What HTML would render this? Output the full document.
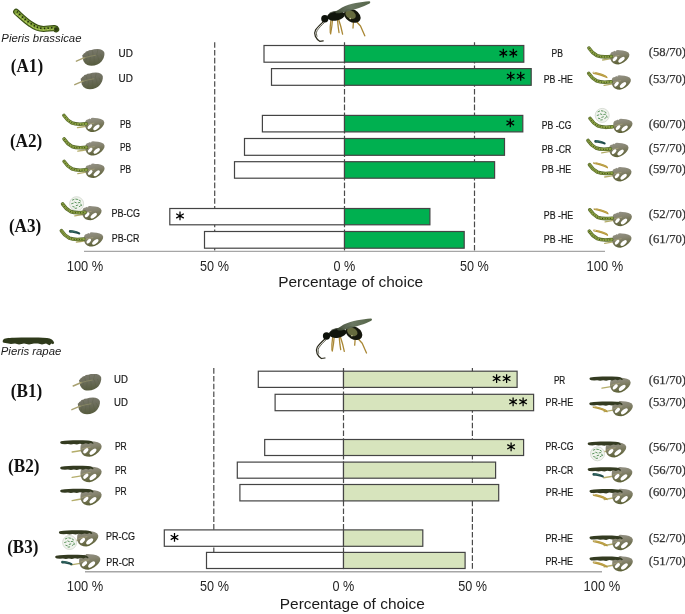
<!DOCTYPE html>
<html><head><meta charset="utf-8"><title>Percentage of choice</title>
<style>html,body{margin:0;padding:0;background:#fff;width:685px;height:614px;overflow:hidden;} svg{display:block;filter:blur(0.3px);}</style>
</head><body>
<svg width="685" height="614" viewBox="0 0 685 614">
<rect width="685" height="614" fill="#fff"/>
<defs>
<linearGradient id="ug" x1="0" y1="0" x2="0.15" y2="1"><stop offset="0" stop-color="#7b7a6e"/><stop offset="0.5" stop-color="#6c6d5b"/><stop offset="1" stop-color="#585d40"/></linearGradient>
<symbol id="ud" overflow="visible">
<path d="M10.2,9.2 L11.2,8.6 L11.8,7.4 L13.1,6.8 L14,5.6 L16,5.1 L17,4.2 L19.5,3.9 L22,3.2 L25.4,3.1 L28,3.3 L30,3.9 L31.6,5.2 L32.4,6.8 L32.4,9 L31.8,11.5 L30.8,13.6 L29.5,15.6 L27.6,17.2 L25.4,18.5 L22.5,19.4 L19.5,19.7 L17.2,19.6 L15.4,19.1 L13.1,17.4 L11.4,15 L10.8,12.1 Z" fill="url(#ug)"/>
<g stroke="#555a3e" stroke-width="0.5" fill="none" opacity="0.55">
<path d="M15,11.5 L13.5,16.5 M18.5,10.6 L17.5,18.5 M22,9.8 L22.5,18.8 M25.5,9 L27.5,16.8 M28.5,8.3 L31,12.5 M17,11 L15.5,5.5 M21,10 L20.5,4.2 M24.5,9.2 L26,3.6"/>
</g>
<path d="M4.4,15.2 L9,13.2 L12.6,11.7" stroke="#a8a171" stroke-width="1.4" fill="none" stroke-linecap="round"/>
<path d="M12.4,11.8 L18,10.3 L23.5,9.3" stroke="#8d8b66" stroke-width="0.8" fill="none" stroke-linecap="round"/>
</symbol>
<linearGradient id="lg" x1="0" y1="0" x2="0.25" y2="1">
<stop offset="0" stop-color="#96948a"/><stop offset="0.45" stop-color="#85836e"/><stop offset="1" stop-color="#5e6238"/></linearGradient>
<symbol id="dl" overflow="visible">
<path d="M-7.3,10 L-3,9.3 L1,8.6" stroke="#b4ad6a" stroke-width="1.3" fill="none" stroke-linecap="round"/>
<path d="M0.6,3.5 L1.5,2.2 L3.5,1.6 L5,0.8 L5.8,1.5 L6.5,0.2 L8,0 L10,0.3 L13,0.5 L16,1.2 L18.5,2.5 L19.5,4.5 L19.2,6.5 L18,8.5 L16.5,10.2 L14,12.2 L11,13.8 L8.5,14.4 L6,14.2 L3.5,13.3 L1.8,11.8 L0.6,9.5 L0.2,7 L0.3,5 Z" fill="url(#lg)"/>
<path d="M1.2,7.5 C3,6.6 6,6 9.5,5.4" stroke="#a9a47a" stroke-width="0.7" fill="none"/>
<ellipse cx="5.1" cy="8.9" rx="2.9" ry="1.55" transform="rotate(-46 5.1 8.9)" fill="#fff"/>
<ellipse cx="11.6" cy="9.7" rx="3.8" ry="1.8" transform="rotate(-40 11.6 9.7)" fill="#fff"/>
</symbol>
<symbol id="pbc" overflow="visible">
<path d="M1,1 C2.6,3.5 5,6.4 9,8.5 C13,10.3 18,10 23.4,9.4" stroke="#56692a" stroke-width="3.6" fill="none" stroke-linecap="round"/>
<path d="M1,1 C2.6,3.5 5,6.4 9,8.5 C13,10.3 18,10 23.4,9.4" stroke="#8ca244" stroke-width="2.2" fill="none" stroke-linecap="round"/>
<path d="M1,1 C2.6,3.5 5,6.4 9,8.5 C13,10.3 18,10 23.4,9.4" stroke="#2f3d10" stroke-width="1.0" fill="none" stroke-dasharray="0.9 1.7"/>
</symbol>
<symbol id="prc" overflow="visible">
<path d="M1.2,1.2 C8,0.2 18,-0.1 28,0.5 C31,0.7 33,1.5 33.8,3.4 L32.5,3.8 L31,3 L28.5,3.9 L26,3.3 L23,4.2 L20,3.7 L17,4.5 L14,4 L11,4.4 L8,3.9 L5,4.2 L2,4 C0,3.6 -0.2,1.6 1.2,1.2 Z" fill="#343b21"/>
</symbol>
<symbol id="he" overflow="visible">
<path d="M0.3,-0.4 C4,-0.1 9,1.3 12.8,3.3 C14.2,4.1 15,5.3 14.3,6.1 C10,4.3 5,2.8 0.5,1.8 C-0.6,1.4 -0.6,-0.3 0.3,-0.4 Z" fill="#b3963a"/>
<path d="M3,0.9 C6.5,1.5 10,2.8 13,4.4" stroke="#cdb25a" stroke-width="0.6" fill="none"/>
<path d="M0.2,0.2 L2.4,0.6" stroke="#dcd6bf" stroke-width="1"/>
</symbol>
<symbol id="cr" overflow="visible">
<path d="M0.6,-0.6 C4,-0.6 8,0.4 10.6,2 C11.6,2.7 11.2,4.3 10,3.9 C7.5,2.8 4,2.2 0.8,2.2 C-0.6,2 -0.6,-0.4 0.6,-0.6 Z" fill="#1f4b4a"/>
<path d="M1,0.5 C3,0.5 5,0.8 7,1.4" stroke="#3f7a70" stroke-width="0.8" fill="none"/>
</symbol>
<symbol id="cg" overflow="visible">
<circle cx="0" cy="0" r="7" fill="#f1f4ee" stroke="#cfd6cb" stroke-width="0.8"/>
<g stroke="#5f9660" stroke-width="1" stroke-linecap="round">
<path d="M-4.2,-3.6 l1.6,-0.7 M-0.8,-4.6 l1.7,0.3 M2.5,-3.6 l1.4,0.9 M-5,0 l1.6,-0.5 M-1.8,-1.5 l1.5,0.6 M1.6,-0.9 l1.7,-0.3 M4.3,0.4 l0.6,1.4 M-3.8,2.8 l1.5,0.5 M-0.4,1.9 l1.6,-0.5 M2.6,3 l1.3,-0.9 M-1.4,4.6 l1.5,-0.2"/>
</g>
</symbol>
<symbol id="wasp" overflow="visible">
<g stroke="#2b2a1c" stroke-width="1.25" fill="none" stroke-linecap="round" stroke-linejoin="round">
<path d="M13.4,21.6 C10.5,24.3 7.4,27.3 5.6,29.8 C4.5,31.8 4.5,34.4 5.4,36.4 C6.5,38.6 8.2,40.4 9.7,41.3 L13.2,40.8"/>
</g>
<path d="M14.6,22.4 C11.8,25 8.8,28 7,30.8 C6.2,32.6 6.3,34.8 7.2,36.6" stroke="#3e3d2a" stroke-width="0.8" fill="none"/>
<g stroke="#a98734" stroke-width="1.3" fill="none" stroke-linecap="round" stroke-linejoin="round">
<path d="M22.5,19.5 L21.8,26.5 L20.6,33.8"/>
<path d="M21,19.8 L20.2,27 L20.3,32.8"/>
<path d="M28.5,19 L30.8,26.5 L32.6,34.2"/>
<path d="M27.5,19.5 L28.2,27 L29,32.5"/>
<path d="M41,20.5 L43.5,21 L43,28"/>
<path d="M45,20 L50.5,26 L54.8,35.8"/>
</g>
<ellipse cx="42.3" cy="15.8" rx="8.9" ry="6.3" transform="rotate(30 42.3 15.8)" fill="#15170d"/>
<ellipse cx="40.6" cy="14.6" rx="5.6" ry="3.9" transform="rotate(30 40.6 14.6)" fill="#666b3e"/>
<circle cx="40.2" cy="18.6" r="0.8" fill="#d9d3a6"/>
<ellipse cx="26" cy="15.8" rx="8.9" ry="4.7" transform="rotate(-10 26 15.8)" fill="#11150c"/>
<path d="M19.5,13.2 C22.5,11.6 26.5,11 30,11.5" stroke="#4a5042" stroke-width="0.9" fill="none"/>
<ellipse cx="14.8" cy="18.8" rx="3.6" ry="3.7" fill="#0e120b"/>
<linearGradient id="wg" x1="0" y1="0" x2="1" y2="0"><stop offset="0" stop-color="#3e4834"/><stop offset="0.45" stop-color="#63715a"/><stop offset="1" stop-color="#4b5c3e"/></linearGradient>
<path d="M25.5,11.4 C28,10 30,8.6 32,7.4 C36,5.6 41,3.9 45.7,3 C50,2.2 55,1.6 59.2,1.2 C60.6,1.3 60.6,2.6 59.6,3.6 C56,5.6 52.5,6.8 49,7.9 C45,9.2 40.5,10.6 36.1,11.8 C33,12.6 29.5,13.4 27,13.3 C25.6,13.1 25,12.2 25.5,11.4 Z" fill="url(#wg)" opacity="0.95"/>
</symbol>
<symbol id="pbbig" overflow="visible">
<path d="M15.6,11.3 C19,14.3 24,19.5 30,23.5 C34,26.5 38,28.3 43,28.4 C47,28.3 51,27.3 54,27.6 C54.8,27.7 55.4,28.1 55.6,28.7" stroke="#3a5015" stroke-width="6.2" fill="none" stroke-linecap="round"/>
<path d="M15.6,11.3 C19,14.3 24,19.5 30,23.5 C34,26.5 38,28.3 43,28.4 C47,28.3 51,27.3 54,27.6" stroke="#7f9f38" stroke-width="4.0" fill="none" stroke-linecap="round"/>
<path d="M15.2,12.3 C19,14.3 24,19.5 30,23.5 C34,26.5 38,28.3 43,28.4 C47,28.3 51,27.3 54,27.6" transform="translate(-0.3,0.9)" stroke="#b3cd5e" stroke-width="1.1" fill="none" stroke-dasharray="3 1"/>
<path d="M16.2,11.6 C19,14.3 24,19.5 30,23.5 C34,26.5 38,28.3 43,28.4 C47,28.3 51,27.3 54,27.6" transform="translate(0.2,-0.5)" stroke="#1f2a0a" stroke-width="1.7" fill="none" stroke-dasharray="1.3 2.3"/>
<circle cx="55.2" cy="28.4" r="1.8" fill="#2c3a12"/>
</symbol>
<symbol id="prbig" overflow="visible">
<path d="M3.5,9.5 C4,8.2 8,7.9 14,7.7 C25,7.4 38,7.4 47,7.9 C51,8.2 53.5,10 54.2,13 L53,14.3 L51.5,13.4 L49.5,15.2 L46,13.6 L42,14.5 L38,13.5 L34,13.5 L29,14.6 L24,13.6 L19,14.6 L15,13.4 L11,14 L7,13.3 L3.8,12.8 C2.2,12.3 2.5,10.5 3.5,9.5 Z" fill="#2f3a1b"/>
</symbol>
</defs>
<line x1="214.7" y1="42.2" x2="214.7" y2="251.4" stroke="#4a4a4a" stroke-width="1.2" stroke-dasharray="5.6 2.2"/>
<line x1="344.5" y1="42.2" x2="344.5" y2="251.4" stroke="#4a4a4a" stroke-width="1.2" stroke-dasharray="5.6 2.2"/>
<line x1="474.5" y1="42.2" x2="474.5" y2="251.4" stroke="#4a4a4a" stroke-width="1.2" stroke-dasharray="5.6 2.2"/>
<line x1="84" y1="251.4" x2="605" y2="251.4" stroke="#a6a6a6" stroke-width="1.4"/>
<rect x="264" y="45.5" width="80.50" height="16.70" fill="#fff" stroke="#444444" stroke-width="1.2"/>
<rect x="344.5" y="45.5" width="179.30" height="16.70" fill="#00b050" stroke="#444444" stroke-width="1.2"/>
<path d="M503.30,57.55L503.30,48.75M499.49,55.35L507.11,50.95M507.11,55.35L499.49,50.95" stroke="#000" stroke-width="1.25" stroke-linecap="butt" fill="none"/>
<path d="M513.30,57.55L513.30,48.75M509.49,55.35L517.11,50.95M517.11,55.35L509.49,50.95" stroke="#000" stroke-width="1.25" stroke-linecap="butt" fill="none"/>
<rect x="271.5" y="68.6" width="73.00" height="16.70" fill="#fff" stroke="#444444" stroke-width="1.2"/>
<rect x="344.5" y="68.6" width="186.70" height="16.70" fill="#00b050" stroke="#444444" stroke-width="1.2"/>
<path d="M510.70,80.65L510.70,71.85M506.89,78.45L514.51,74.05M514.51,78.45L506.89,74.05" stroke="#000" stroke-width="1.25" stroke-linecap="butt" fill="none"/>
<path d="M520.70,80.65L520.70,71.85M516.89,78.45L524.51,74.05M524.51,78.45L516.89,74.05" stroke="#000" stroke-width="1.25" stroke-linecap="butt" fill="none"/>
<rect x="262.4" y="115.4" width="82.10" height="16.50" fill="#fff" stroke="#444444" stroke-width="1.2"/>
<rect x="344.5" y="115.4" width="178.30" height="16.50" fill="#00b050" stroke="#444444" stroke-width="1.2"/>
<path d="M510.30,127.35L510.30,118.55M506.49,125.15L514.11,120.75M514.11,125.15L506.49,120.75" stroke="#000" stroke-width="1.25" stroke-linecap="butt" fill="none"/>
<rect x="244.5" y="138.5" width="100.00" height="16.80" fill="#fff" stroke="#444444" stroke-width="1.2"/>
<rect x="344.5" y="138.5" width="160.00" height="16.80" fill="#00b050" stroke="#444444" stroke-width="1.2"/>
<rect x="234.5" y="161.7" width="110.00" height="16.50" fill="#fff" stroke="#444444" stroke-width="1.2"/>
<rect x="344.5" y="161.7" width="150.10" height="16.50" fill="#00b050" stroke="#444444" stroke-width="1.2"/>
<rect x="169.8" y="208.5" width="174.70" height="16.30" fill="#fff" stroke="#444444" stroke-width="1.2"/>
<rect x="344.5" y="208.5" width="85.40" height="16.30" fill="#00b050" stroke="#444444" stroke-width="1.2"/>
<path d="M180.00,220.35L180.00,211.55M176.19,218.15L183.81,213.75M183.81,218.15L176.19,213.75" stroke="#000" stroke-width="1.25" stroke-linecap="butt" fill="none"/>
<rect x="204.5" y="231.5" width="140.00" height="16.70" fill="#fff" stroke="#444444" stroke-width="1.2"/>
<rect x="344.5" y="231.5" width="119.70" height="16.70" fill="#00b050" stroke="#444444" stroke-width="1.2"/>
<text x="66.8" y="271.0" font-family="'Liberation Sans'" font-size="14" font-weight="normal" font-style="normal" fill="#262626" text-anchor="start" textLength="36.5" lengthAdjust="spacingAndGlyphs">100 %</text>
<text x="200.1" y="271.0" font-family="'Liberation Sans'" font-size="14" font-weight="normal" font-style="normal" fill="#262626" text-anchor="start" textLength="28.8" lengthAdjust="spacingAndGlyphs">50 %</text>
<text x="333.5" y="271.0" font-family="'Liberation Sans'" font-size="14" font-weight="normal" font-style="normal" fill="#262626" text-anchor="start" textLength="21.8" lengthAdjust="spacingAndGlyphs">0 %</text>
<text x="460" y="271.0" font-family="'Liberation Sans'" font-size="14" font-weight="normal" font-style="normal" fill="#262626" text-anchor="start" textLength="28.8" lengthAdjust="spacingAndGlyphs">50 %</text>
<text x="586.6" y="271.0" font-family="'Liberation Sans'" font-size="14" font-weight="normal" font-style="normal" fill="#262626" text-anchor="start" textLength="36.5" lengthAdjust="spacingAndGlyphs">100 %</text>
<text x="278.2" y="287.0" font-family="'Liberation Sans'" font-size="15.5" font-weight="normal" font-style="normal" fill="#1a1a1a" text-anchor="start" textLength="145" lengthAdjust="spacingAndGlyphs">Percentage of choice</text>
<line x1="213.8" y1="368.1" x2="213.8" y2="571.8" stroke="#4a4a4a" stroke-width="1.2" stroke-dasharray="5.6 2.2"/>
<line x1="343.5" y1="368.1" x2="343.5" y2="571.8" stroke="#4a4a4a" stroke-width="1.2" stroke-dasharray="5.6 2.2"/>
<line x1="472.4" y1="368.1" x2="472.4" y2="571.8" stroke="#4a4a4a" stroke-width="1.2" stroke-dasharray="5.6 2.2"/>
<line x1="85" y1="571.8" x2="602" y2="571.8" stroke="#a6a6a6" stroke-width="1.4"/>
<rect x="258.3" y="371.2" width="85.20" height="16.20" fill="#fff" stroke="#444444" stroke-width="1.2"/>
<rect x="343.5" y="371.2" width="173.60" height="16.20" fill="#d7e4bd" stroke="#444444" stroke-width="1.2"/>
<path d="M496.60,383.00L496.60,374.20M492.79,380.80L500.41,376.40M500.41,380.80L492.79,376.40" stroke="#000" stroke-width="1.25" stroke-linecap="butt" fill="none"/>
<path d="M506.60,383.00L506.60,374.20M502.79,380.80L510.41,376.40M510.41,380.80L502.79,376.40" stroke="#000" stroke-width="1.25" stroke-linecap="butt" fill="none"/>
<rect x="275.1" y="394.3" width="68.40" height="16.40" fill="#fff" stroke="#444444" stroke-width="1.2"/>
<rect x="343.5" y="394.3" width="190.10" height="16.40" fill="#d7e4bd" stroke="#444444" stroke-width="1.2"/>
<path d="M513.10,406.20L513.10,397.40M509.29,404.00L516.91,399.60M516.91,404.00L509.29,399.60" stroke="#000" stroke-width="1.25" stroke-linecap="butt" fill="none"/>
<path d="M523.10,406.20L523.10,397.40M519.29,404.00L526.91,399.60M526.91,404.00L519.29,399.60" stroke="#000" stroke-width="1.25" stroke-linecap="butt" fill="none"/>
<rect x="264.7" y="439.5" width="78.80" height="16.00" fill="#fff" stroke="#444444" stroke-width="1.2"/>
<rect x="343.5" y="439.5" width="180.10" height="16.00" fill="#d7e4bd" stroke="#444444" stroke-width="1.2"/>
<path d="M511.10,451.20L511.10,442.40M507.29,449.00L514.91,444.60M514.91,449.00L507.29,444.60" stroke="#000" stroke-width="1.25" stroke-linecap="butt" fill="none"/>
<rect x="237.3" y="462.1" width="106.20" height="16.10" fill="#fff" stroke="#444444" stroke-width="1.2"/>
<rect x="343.5" y="462.1" width="152.10" height="16.10" fill="#d7e4bd" stroke="#444444" stroke-width="1.2"/>
<rect x="239.9" y="484.5" width="103.60" height="16.40" fill="#fff" stroke="#444444" stroke-width="1.2"/>
<rect x="343.5" y="484.5" width="155.20" height="16.40" fill="#d7e4bd" stroke="#444444" stroke-width="1.2"/>
<rect x="164.3" y="529.9" width="179.20" height="16.40" fill="#fff" stroke="#444444" stroke-width="1.2"/>
<rect x="343.5" y="529.9" width="79.30" height="16.40" fill="#d7e4bd" stroke="#444444" stroke-width="1.2"/>
<path d="M174.50,541.80L174.50,533.00M170.69,539.60L178.31,535.20M178.31,539.60L170.69,535.20" stroke="#000" stroke-width="1.25" stroke-linecap="butt" fill="none"/>
<rect x="206.5" y="552.4" width="137.00" height="16.10" fill="#fff" stroke="#444444" stroke-width="1.2"/>
<rect x="343.5" y="552.4" width="121.60" height="16.10" fill="#d7e4bd" stroke="#444444" stroke-width="1.2"/>
<text x="66.8" y="591.0" font-family="'Liberation Sans'" font-size="14" font-weight="normal" font-style="normal" fill="#262626" text-anchor="start" textLength="36.5" lengthAdjust="spacingAndGlyphs">100 %</text>
<text x="200.1" y="591.0" font-family="'Liberation Sans'" font-size="14" font-weight="normal" font-style="normal" fill="#262626" text-anchor="start" textLength="28.8" lengthAdjust="spacingAndGlyphs">50 %</text>
<text x="332.5" y="591.0" font-family="'Liberation Sans'" font-size="14" font-weight="normal" font-style="normal" fill="#262626" text-anchor="start" textLength="21.8" lengthAdjust="spacingAndGlyphs">0 %</text>
<text x="458.3" y="591.0" font-family="'Liberation Sans'" font-size="14" font-weight="normal" font-style="normal" fill="#262626" text-anchor="start" textLength="28.8" lengthAdjust="spacingAndGlyphs">50 %</text>
<text x="583.6" y="591.0" font-family="'Liberation Sans'" font-size="14" font-weight="normal" font-style="normal" fill="#262626" text-anchor="start" textLength="36.5" lengthAdjust="spacingAndGlyphs">100 %</text>
<text x="279.8" y="609.0" font-family="'Liberation Sans'" font-size="15.5" font-weight="normal" font-style="normal" fill="#1a1a1a" text-anchor="start" textLength="145" lengthAdjust="spacingAndGlyphs">Percentage of choice</text>
<text x="10.8" y="71.8" font-family="'Liberation Serif'" font-size="18" font-weight="bold" font-style="normal" fill="#111" text-anchor="start" textLength="32.3" lengthAdjust="spacingAndGlyphs">(A1)</text>
<text x="9.9" y="146.8" font-family="'Liberation Serif'" font-size="18" font-weight="bold" font-style="normal" fill="#111" text-anchor="start" textLength="32.3" lengthAdjust="spacingAndGlyphs">(A2)</text>
<text x="8.9" y="231.9" font-family="'Liberation Serif'" font-size="18" font-weight="bold" font-style="normal" fill="#111" text-anchor="start" textLength="32.3" lengthAdjust="spacingAndGlyphs">(A3)</text>
<text x="10.8" y="396.5" font-family="'Liberation Serif'" font-size="18" font-weight="bold" font-style="normal" fill="#111" text-anchor="start" textLength="31.4" lengthAdjust="spacingAndGlyphs">(B1)</text>
<text x="8.0" y="471.8" font-family="'Liberation Serif'" font-size="18" font-weight="bold" font-style="normal" fill="#111" text-anchor="start" textLength="31.4" lengthAdjust="spacingAndGlyphs">(B2)</text>
<text x="7.2" y="552.8" font-family="'Liberation Serif'" font-size="18" font-weight="bold" font-style="normal" fill="#111" text-anchor="start" textLength="31.1" lengthAdjust="spacingAndGlyphs">(B3)</text>
<text x="118.5" y="57" font-family="'Liberation Sans'" font-size="10" fill="#1a1a1a" stroke="#1a1a1a" stroke-width="0.2" textLength="14.3" lengthAdjust="spacingAndGlyphs">UD</text>
<text x="118.5" y="81.9" font-family="'Liberation Sans'" font-size="10" fill="#1a1a1a" stroke="#1a1a1a" stroke-width="0.2" textLength="14.3" lengthAdjust="spacingAndGlyphs">UD</text>
<text x="120" y="127.6" font-family="'Liberation Sans'" font-size="10" fill="#1a1a1a" stroke="#1a1a1a" stroke-width="0.2" textLength="11.2" lengthAdjust="spacingAndGlyphs">PB</text>
<text x="120" y="150.6" font-family="'Liberation Sans'" font-size="10" fill="#1a1a1a" stroke="#1a1a1a" stroke-width="0.2" textLength="11.2" lengthAdjust="spacingAndGlyphs">PB</text>
<text x="120" y="172.7" font-family="'Liberation Sans'" font-size="10" fill="#1a1a1a" stroke="#1a1a1a" stroke-width="0.2" textLength="11.2" lengthAdjust="spacingAndGlyphs">PB</text>
<text x="111.4" y="217.3" font-family="'Liberation Sans'" font-size="10" fill="#1a1a1a" stroke="#1a1a1a" stroke-width="0.2" textLength="28.5" lengthAdjust="spacingAndGlyphs">PB-CG</text>
<text x="111.8" y="241.7" font-family="'Liberation Sans'" font-size="10" fill="#1a1a1a" stroke="#1a1a1a" stroke-width="0.2" textLength="27.5" lengthAdjust="spacingAndGlyphs">PB-CR</text>
<text x="551.5" y="56.9" font-family="'Liberation Sans'" font-size="10" fill="#1a1a1a" stroke="#1a1a1a" stroke-width="0.2" textLength="11.4" lengthAdjust="spacingAndGlyphs">PB</text>
<text x="543.8" y="83.2" font-family="'Liberation Sans'" font-size="10" fill="#1a1a1a" stroke="#1a1a1a" stroke-width="0.2" textLength="29.1" lengthAdjust="spacingAndGlyphs">PB -HE</text>
<text x="541.8" y="128.5" font-family="'Liberation Sans'" font-size="10" fill="#1a1a1a" stroke="#1a1a1a" stroke-width="0.2" textLength="29.6" lengthAdjust="spacingAndGlyphs">PB -CG</text>
<text x="541.8" y="152.7" font-family="'Liberation Sans'" font-size="10" fill="#1a1a1a" stroke="#1a1a1a" stroke-width="0.2" textLength="29.4" lengthAdjust="spacingAndGlyphs">PB -CR</text>
<text x="541.8" y="173.2" font-family="'Liberation Sans'" font-size="10" fill="#1a1a1a" stroke="#1a1a1a" stroke-width="0.2" textLength="29.4" lengthAdjust="spacingAndGlyphs">PB -HE</text>
<text x="543.8" y="218.6" font-family="'Liberation Sans'" font-size="10" fill="#1a1a1a" stroke="#1a1a1a" stroke-width="0.2" textLength="29.3" lengthAdjust="spacingAndGlyphs">PB -HE</text>
<text x="543.8" y="242.8" font-family="'Liberation Sans'" font-size="10" fill="#1a1a1a" stroke="#1a1a1a" stroke-width="0.2" textLength="29.3" lengthAdjust="spacingAndGlyphs">PB -HE</text>
<text x="114" y="383.1" font-family="'Liberation Sans'" font-size="10" fill="#1a1a1a" stroke="#1a1a1a" stroke-width="0.2" textLength="13.8" lengthAdjust="spacingAndGlyphs">UD</text>
<text x="114" y="405.7" font-family="'Liberation Sans'" font-size="10" fill="#1a1a1a" stroke="#1a1a1a" stroke-width="0.2" textLength="13.8" lengthAdjust="spacingAndGlyphs">UD</text>
<text x="114.9" y="450.4" font-family="'Liberation Sans'" font-size="10" fill="#1a1a1a" stroke="#1a1a1a" stroke-width="0.2" textLength="11.8" lengthAdjust="spacingAndGlyphs">PR</text>
<text x="114.9" y="473.5" font-family="'Liberation Sans'" font-size="10" fill="#1a1a1a" stroke="#1a1a1a" stroke-width="0.2" textLength="11.8" lengthAdjust="spacingAndGlyphs">PR</text>
<text x="114.9" y="495" font-family="'Liberation Sans'" font-size="10" fill="#1a1a1a" stroke="#1a1a1a" stroke-width="0.2" textLength="11.8" lengthAdjust="spacingAndGlyphs">PR</text>
<text x="105.9" y="539.5" font-family="'Liberation Sans'" font-size="10" fill="#1a1a1a" stroke="#1a1a1a" stroke-width="0.2" textLength="29" lengthAdjust="spacingAndGlyphs">PR-CG</text>
<text x="106.3" y="565.7" font-family="'Liberation Sans'" font-size="10" fill="#1a1a1a" stroke="#1a1a1a" stroke-width="0.2" textLength="28.2" lengthAdjust="spacingAndGlyphs">PR-CR</text>
<text x="553.9" y="384.1" font-family="'Liberation Sans'" font-size="10" fill="#1a1a1a" stroke="#1a1a1a" stroke-width="0.2" textLength="11.4" lengthAdjust="spacingAndGlyphs">PR</text>
<text x="545.6" y="405.7" font-family="'Liberation Sans'" font-size="10" fill="#1a1a1a" stroke="#1a1a1a" stroke-width="0.2" textLength="27.5" lengthAdjust="spacingAndGlyphs">PR-HE</text>
<text x="545.5" y="450" font-family="'Liberation Sans'" font-size="10" fill="#1a1a1a" stroke="#1a1a1a" stroke-width="0.2" textLength="28" lengthAdjust="spacingAndGlyphs">PR-CG</text>
<text x="545.8" y="473.7" font-family="'Liberation Sans'" font-size="10" fill="#1a1a1a" stroke="#1a1a1a" stroke-width="0.2" textLength="27.4" lengthAdjust="spacingAndGlyphs">PR-CR</text>
<text x="545.8" y="496.3" font-family="'Liberation Sans'" font-size="10" fill="#1a1a1a" stroke="#1a1a1a" stroke-width="0.2" textLength="27.4" lengthAdjust="spacingAndGlyphs">PR-HE</text>
<text x="545.4" y="542.2" font-family="'Liberation Sans'" font-size="10" fill="#1a1a1a" stroke="#1a1a1a" stroke-width="0.2" textLength="27.6" lengthAdjust="spacingAndGlyphs">PR-HE</text>
<text x="545.4" y="564.8" font-family="'Liberation Sans'" font-size="10" fill="#1a1a1a" stroke="#1a1a1a" stroke-width="0.2" textLength="27.6" lengthAdjust="spacingAndGlyphs">PR-HE</text>
<text x="648.8" y="55.5" font-family="'Liberation Serif'" font-size="12.4" fill="#333" stroke="#333" stroke-width="0.25" textLength="37.2" lengthAdjust="spacingAndGlyphs">(58/70)</text>
<text x="648.8" y="83.1" font-family="'Liberation Serif'" font-size="12.4" fill="#333" stroke="#333" stroke-width="0.25" textLength="37.2" lengthAdjust="spacingAndGlyphs">(53/70)</text>
<text x="648.8" y="128.3" font-family="'Liberation Serif'" font-size="12.4" fill="#333" stroke="#333" stroke-width="0.25" textLength="37.2" lengthAdjust="spacingAndGlyphs">(60/70)</text>
<text x="648.8" y="152.3" font-family="'Liberation Serif'" font-size="12.4" fill="#333" stroke="#333" stroke-width="0.25" textLength="37.2" lengthAdjust="spacingAndGlyphs">(57/70)</text>
<text x="648.8" y="173.3" font-family="'Liberation Serif'" font-size="12.4" fill="#333" stroke="#333" stroke-width="0.25" textLength="37.2" lengthAdjust="spacingAndGlyphs">(59/70)</text>
<text x="648.8" y="218.3" font-family="'Liberation Serif'" font-size="12.4" fill="#333" stroke="#333" stroke-width="0.25" textLength="37.2" lengthAdjust="spacingAndGlyphs">(52/70)</text>
<text x="648.8" y="243.3" font-family="'Liberation Serif'" font-size="12.4" fill="#333" stroke="#333" stroke-width="0.25" textLength="37.2" lengthAdjust="spacingAndGlyphs">(61/70)</text>
<text x="648.8" y="384.3" font-family="'Liberation Serif'" font-size="12.4" fill="#333" stroke="#333" stroke-width="0.25" textLength="37.2" lengthAdjust="spacingAndGlyphs">(61/70)</text>
<text x="648.8" y="406.3" font-family="'Liberation Serif'" font-size="12.4" fill="#333" stroke="#333" stroke-width="0.25" textLength="37.2" lengthAdjust="spacingAndGlyphs">(53/70)</text>
<text x="648.8" y="451.3" font-family="'Liberation Serif'" font-size="12.4" fill="#333" stroke="#333" stroke-width="0.25" textLength="37.2" lengthAdjust="spacingAndGlyphs">(56/70)</text>
<text x="648.8" y="474.3" font-family="'Liberation Serif'" font-size="12.4" fill="#333" stroke="#333" stroke-width="0.25" textLength="37.2" lengthAdjust="spacingAndGlyphs">(56/70)</text>
<text x="648.8" y="496.3" font-family="'Liberation Serif'" font-size="12.4" fill="#333" stroke="#333" stroke-width="0.25" textLength="37.2" lengthAdjust="spacingAndGlyphs">(60/70)</text>
<text x="648.8" y="542.3" font-family="'Liberation Serif'" font-size="12.4" fill="#333" stroke="#333" stroke-width="0.25" textLength="37.2" lengthAdjust="spacingAndGlyphs">(52/70)</text>
<text x="648.8" y="564.8" font-family="'Liberation Serif'" font-size="12.4" fill="#333" stroke="#333" stroke-width="0.25" textLength="37.2" lengthAdjust="spacingAndGlyphs">(51/70)</text>
<text x="1.3" y="42.3" font-family="'Liberation Sans'" font-size="11" font-weight="normal" font-style="italic" fill="#1a1a1a" text-anchor="start" textLength="80.2" lengthAdjust="spacingAndGlyphs">Pieris brassicae</text>
<text x="0.8" y="354.5" font-family="'Liberation Sans'" font-size="11.5" font-weight="normal" font-style="italic" fill="#1a1a1a" text-anchor="start" textLength="60.5" lengthAdjust="spacingAndGlyphs">Pieris rapae</text>
<use href="#pbbig" x="0.6" y="0.6"/>
<use href="#prbig" x="0" y="330"/>
<use href="#wasp" x="310" y="0"/>
<use href="#wasp" x="311.7" y="317.2"/>
<use href="#ud" x="72" y="46"/>
<use href="#ud" x="70.4" y="69.5"/>
<use href="#ud" x="68.8" y="370.8"/>
<use href="#ud" x="67.5" y="394.5"/>
<g transform="translate(84.8,117.7) scale(1.0)"><use href="#dl"/></g>
<use href="#pbc" x="62.9" y="114.4"/>
<g transform="translate(85.1,141.2) scale(1.0)"><use href="#dl"/></g>
<use href="#pbc" x="63.1" y="138"/>
<g transform="translate(85.1,163.6) scale(1.0)"><use href="#dl"/></g>
<use href="#pbc" x="63.1" y="160.4"/>
<use href="#cg" x="76.6" y="203.7"/>
<g transform="translate(82.1,205.9) scale(1.0)"><use href="#dl"/></g>
<use href="#pbc" x="61.6" y="203"/>
<g transform="translate(83.7,232.2) scale(1.0)"><use href="#dl"/></g>
<use href="#pbc" x="60.4" y="229.7"/>
<use href="#cr" x="69.1" y="230.6"/>
<g transform="translate(609.9,50) scale(1.0)"><use href="#dl"/></g>
<use href="#pbc" x="588" y="47.1"/>
<g transform="translate(611.4,75.3) scale(1.0)"><use href="#dl"/></g>
<use href="#pbc" x="587.7" y="72.4"/>
<use href="#he" x="593" y="72.2"/>
<use href="#cg" x="602.2" y="115.4"/>
<g transform="translate(613,118.7) scale(1.0)"><use href="#dl"/></g>
<use href="#pbc" x="589" y="117.4"/>
<g transform="translate(609,142.8) scale(1.0)"><use href="#dl"/></g>
<use href="#pbc" x="587" y="139.5"/>
<use href="#cr" x="594.5" y="140.6"/>
<g transform="translate(612,167) scale(1.0)"><use href="#dl"/></g>
<use href="#pbc" x="588.5" y="163.7"/>
<use href="#he" x="593.5" y="162.3"/>
<g transform="translate(612.4,211.8) scale(1.0)"><use href="#dl"/></g>
<use href="#pbc" x="588.8" y="208.8"/>
<use href="#he" x="594" y="208.3"/>
<g transform="translate(612,233.3) scale(1.0)"><use href="#dl"/></g>
<use href="#pbc" x="588.3" y="230.2"/>
<use href="#he" x="593.6" y="229.8"/>
<g transform="translate(80.2,441) scale(1.1)"><use href="#dl"/></g>
<use href="#prc" x="59.9" y="440.0"/>
<g transform="translate(80.2,466.4) scale(1.1)"><use href="#dl"/></g>
<use href="#prc" x="59.9" y="465.5"/>
<g transform="translate(80.2,489.6) scale(1.1)"><use href="#dl"/></g>
<use href="#prc" x="59.9" y="488.6"/>
<g transform="translate(76.9,530.7) scale(1.1)"><use href="#dl"/></g>
<use href="#cg" x="69.6" y="542.5"/>
<use href="#prc" x="58.6" y="530.1"/>
<g transform="translate(78.9,553.9) scale(1.1)"><use href="#dl"/></g>
<use href="#cr" x="61.4" y="561.3"/>
<use href="#prc" x="54.9" y="554.5"/>
<g transform="translate(609.8,377.4) scale(1.07)"><use href="#dl"/></g>
<use href="#prc" x="589.2" y="376.3"/>
<g transform="translate(612,400.9) scale(1.07)"><use href="#dl"/></g>
<use href="#he" x="593" y="406.3"/>
<use href="#prc" x="589" y="401.2"/>
<g transform="translate(605.4,442) scale(1.07)"><use href="#dl"/></g>
<use href="#cg" x="597.5" y="453.8"/>
<use href="#prc" x="587.4" y="441.2"/>
<g transform="translate(611.5,467) scale(1.07)"><use href="#dl"/></g>
<use href="#cr" x="592.7" y="473.5"/>
<use href="#prc" x="587.4" y="467"/>
<g transform="translate(612,488.8) scale(1.07)"><use href="#dl"/></g>
<use href="#he" x="593.1" y="494.2"/>
<use href="#prc" x="589.2" y="488.9"/>
<g transform="translate(612,534.8) scale(1.07)"><use href="#dl"/></g>
<use href="#he" x="593.1" y="540.5"/>
<use href="#prc" x="589.2" y="535.4"/>
<g transform="translate(612,556.1) scale(1.07)"><use href="#dl"/></g>
<use href="#he" x="593.1" y="561.6"/>
<use href="#prc" x="589.2" y="556.4"/>
</svg>
</body></html>
